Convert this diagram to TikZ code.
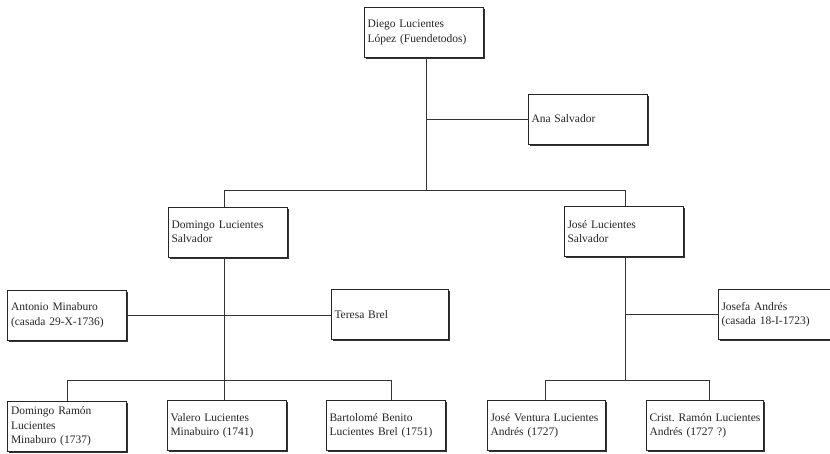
\documentclass[tikz,border=0pt]{standalone}
\usepackage{fontspec}
\setmainfont{Liberation Serif}
\usetikzlibrary{shadows,calc}
\newcommand{\boxfont}{\fontsize{11.5}{14.5}\selectfont\frenchspacing\hyphenpenalty 10000\relax}
\begin{document}
\begin{tikzpicture}[x=1pt,y=1pt,
  person/.style={draw=black!85, line width=0.8pt, fill=white, rectangle,
    minimum height=50pt, text width=112pt, inner xsep=3.5pt, inner ysep=0pt,
    align=left, font={\boxfont}, text=black!85,
    drop shadow={shadow xshift=1.8pt, shadow yshift=-1.8pt, fill=black!80, opacity=1}},
  link/.style={draw=black!80, line width=0.9pt}]
\useasboundingbox (0,0) rectangle (830,454);
\clip (0,0) rectangle (830,454);
\fill[white] (0,0) rectangle (830,454);

% junction coordinates
\coordinate (dA) at (426,264);
\coordinate (jL) at (224,264);
\coordinate (jR) at (625,264);
\coordinate (kL) at (224,74);
\coordinate (kR) at (625,74);
\coordinate (b1) at (67,74);
\coordinate (b3) at (391,74);
\coordinate (c1) at (545,74);
\coordinate (c2) at (709,74);

% nodes
\node[person] (diego) at (423.5,421.5) {Diego Lucientes\\López (Fuendetodos)};
\node[person] (ana) at (587.5,335) {Ana Salvador};
\node[person] (dom) at (227.5,222) {Domingo Lucientes\\Salvador};
\node[person] (jose) at (623.5,222.5) {José Lucientes\\Salvador};
\node[person] (ant) at (67,139) {Antonio Minaburo\\(casada 29-X-1736)};
\node[person, text width=110pt] (ter) at (389.5,139.5) {Teresa Brel};
\node[person] (josefa) at (777.5,139.5) {Josefa Andrés\\(casada 18-I-1723)};
\node[person] (dr) at (67,27.5) {Domingo Ramón\\Lucientes\\Minaburo (1737)};
\node[person] (val) at (226.5,28.5) {Valero Lucientes\\Minabuiro (1741)};
\node[person] (bb) at (385.5,28.5) {Bartolomé Benito\\Lucientes Brel (1751)};
\node[person, text width=111pt] (jv) at (546,28.5) {\mbox{José Ventura Lucientes}\\Andrés (1727)};
\node[person, text width=110pt] (cr) at (704.5,28.5) {\mbox{Crist. Ramón Lucientes}\\Andrés (1727 ?)};

% connectors
\draw[link] (dA |- diego.south) -- (dA);
\draw[link] (dA |- ana.west) -- (ana.west);
\draw[link] (jL |- dom.north) -- (jL) -- (jR) -- (jR |- jose.north);
\draw[link] (jL |- dom.south) -- (kL);
\draw[link] (jR |- jose.south) -- (kR);
\draw[link] (ant.east) -- (ter.west |- ant.east);
\draw[link] (jR |- josefa.west) -- (josefa.west);
\draw[link] (b1 |- dr.north) -- (b1) -- (b3) -- (b3 |- bb.north);
\draw[link] (kL) -- (kL |- val.north);
\draw[link] (c1 |- jv.north) -- (c1) -- (c2) -- (c2 |- cr.north);
\end{tikzpicture}
\end{document}
